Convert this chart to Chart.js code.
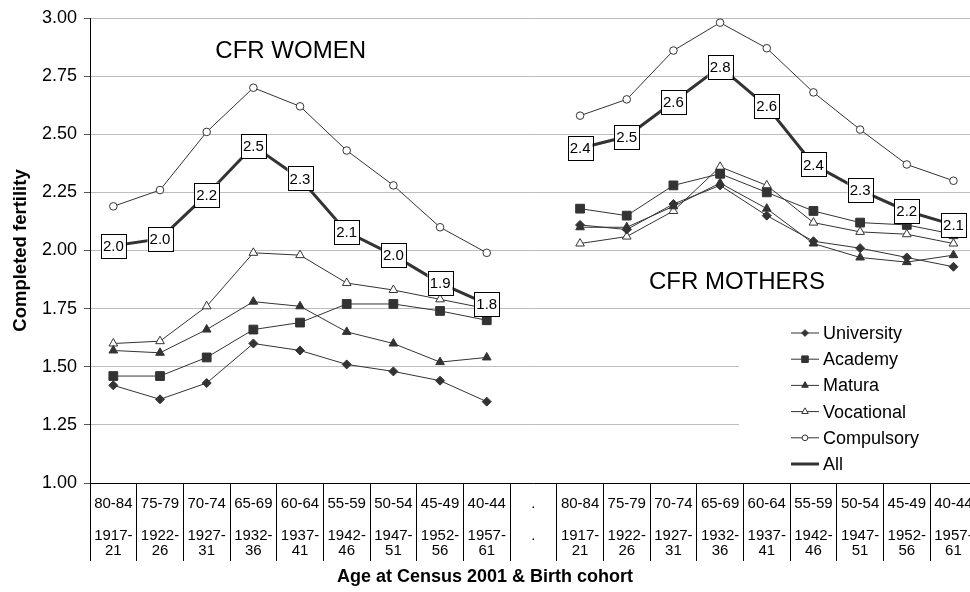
<!DOCTYPE html>
<html>
<head>
<meta charset="utf-8">
<title>Completed fertility</title>
<script src="https://cdn.jsdelivr.net/npm/chart.js@4.4.1/dist/chart.umd.min.js"></script>
<style>
    html, body { margin: 0; padding: 0; background: #fff; overflow: hidden; }
    #wrap { width: 984px; height: 592px; }
</style>
</head>
<body>
<div id="wrap"><canvas id="cfrChart" width="984" height="592"></canvas></div>
<script>
// ---------- datos ----------
const ages = ['80-84', '75-79', '70-74', '65-69', '60-64', '55-59', '50-54', '45-49', '40-44'];
const cohorts = [['1917-', '21'], ['1922-', '26'], ['1927-', '31'], ['1932-', '36'], ['1937-', '41'],
                 ['1942-', '46'], ['1947-', '51'], ['1952-', '56'], ['1957-', '61']];

// 9 cohortes "women", un hueco ".", luego 9 cohortes "mothers"
const university = [1.42, 1.36, 1.43, 1.60, 1.57, 1.51, 1.48, 1.44, 1.35, null,
                    2.11, 2.09, 2.20, 2.28, 2.15, 2.04, 2.01, 1.97, 1.93];
const academy    = [1.46, 1.46, 1.54, 1.66, 1.69, 1.77, 1.77, 1.74, 1.70, null,
                    2.18, 2.15, 2.28, 2.33, 2.25, 2.17, 2.12, 2.11, 2.07];
const matura     = [1.57, 1.56, 1.66, 1.78, 1.76, 1.65, 1.60, 1.52, 1.54, null,
                    2.10, 2.10, 2.19, 2.29, 2.18, 2.03, 1.97, 1.95, 1.98];
const vocational = [1.60, 1.61, 1.76, 1.99, 1.98, 1.86, 1.83, 1.79, 1.75, null,
                    2.03, 2.06, 2.17, 2.36, 2.28, 2.12, 2.08, 2.07, 2.03];
const compulsory = [2.19, 2.26, 2.51, 2.70, 2.62, 2.43, 2.28, 2.10, 1.99, null,
                    2.58, 2.65, 2.86, 2.98, 2.87, 2.68, 2.52, 2.37, 2.30];
const all        = [2.02, 2.05, 2.24, 2.45, 2.31, 2.08, 1.98, 1.86, 1.77, null,
                    2.44, 2.49, 2.64, 2.79, 2.62, 2.37, 2.26, 2.17, 2.11];

const yMin = 1, yMax = 3, yStep = 0.25;

const labels = [
    ...ages.map((a, i) => [a, '', ...cohorts[i]]),
    ['.', '', '.', ''],
    ...ages.map((a, i) => [a, '', ...cohorts[i]]),
];

const FONT = "'Liberation Sans', Arial, sans-serif";
const INK = '#333';

function serie(label, data, pointStyle, filled, radius) {
    return {
        label, data, pointStyle,
        borderColor: INK,
        borderWidth: 1,
        backgroundColor: filled ? INK : '#fff',
        pointBackgroundColor: filled ? INK : '#fff',
        pointBorderColor: INK,
        pointBorderWidth: 1,
        pointRadius: radius,
        pointHoverRadius: radius,
        spanGaps: false,
        tension: 0,
    };
}

const datasets = [
    serie('University', university, 'rectRot', true, 4.5),
    serie('Academy', academy, 'rect', true, 6.2),
    serie('Matura', matura, 'triangle', true, 5),
    serie('Vocational', vocational, 'triangle', false, 5),
    serie('Compulsory', compulsory, 'circle', false, 3.8),
    {
        label: 'All', data: all,
        borderColor: INK, borderWidth: 3, pointRadius: 0, pointHoverRadius: 0,
        spanGaps: false, tension: 0, isTotal: true,
    },
];

// Etiquetas en caja para la serie "All", títulos y leyenda dentro del gráfico
const annotations = {
    id: 'annotations',
    afterDatasetsDraw(chart) {
        const ctx = chart.ctx;
        const x = chart.scales.x, y = chart.scales.y;
        ctx.save();
        ctx.fillStyle = '#000';
        ctx.font = `24px ${FONT}`;
        ctx.textAlign = 'center';
        ctx.textBaseline = 'middle';
        ctx.fillText('CFR WOMEN', x.getPixelForValue(3.8), y.getPixelForValue(2.856));
        ctx.fillText('CFR MOTHERS', x.getPixelForValue(13.36), y.getPixelForValue(1.862));

        chart.data.datasets.forEach((ds, di) => {
            if (!ds.isTotal) return;
            const meta = chart.getDatasetMeta(di);
            meta.data.forEach((pt, i) => {
                const v = ds.data[i];
                if (v == null) return;
                const w = 25, h = 24;
                ctx.fillStyle = '#fff';
                ctx.fillRect(pt.x - w / 2, pt.y - h / 2, w, h);
                ctx.strokeStyle = '#000';
                ctx.lineWidth = 1;
                ctx.strokeRect(Math.round(pt.x - w / 2) + 0.5, Math.round(pt.y - h / 2) + 0.5, w, h);
                ctx.fillStyle = '#000';
                ctx.font = `15px ${FONT}`;
                ctx.fillText(v.toFixed(1), pt.x, pt.y + 1);
            });
        });
        ctx.restore();
    },
    afterDraw(chart) {
        const ctx = chart.ctx;
        const area = chart.chartArea;
        ctx.save();
        // título del eje x, centrado en la ventana visible
        ctx.fillStyle = '#000';
        ctx.font = `bold 18px ${FONT}`;
        ctx.textAlign = 'center';
        ctx.textBaseline = 'middle';
        ctx.fillText('Age at Census 2001 & Birth cohort', 485, 577);

        // leyenda
        ctx.fillStyle = '#fff';
        ctx.fillRect(739, 313, area.right - 739, area.bottom - 1 - 313);
        const x0 = 791, x1 = 819, top = 333, step = 26.2;
        chart.data.datasets.forEach((ds, i) => {
            const yy = top + i * step;
            ctx.strokeStyle = INK;
            ctx.lineWidth = ds.borderWidth;
            ctx.beginPath();
            ctx.moveTo(x0, yy);
            ctx.lineTo(x1, yy);
            ctx.stroke();
            if (ds.pointRadius) {
                ctx.fillStyle = ds.pointBackgroundColor;
                ctx.strokeStyle = INK;
                ctx.lineWidth = 1;
                Chart.helpers.drawPoint(ctx, {
                    pointStyle: ds.pointStyle,
                    radius: ds.pointRadius * 0.75,
                    rotation: 0,
                    borderWidth: 1,
                }, (x0 + x1) / 2, yy);
            }
            ctx.fillStyle = '#000';
            ctx.font = `18px ${FONT}`;
            ctx.textAlign = 'left';
            ctx.textBaseline = 'middle';
            ctx.fillText(ds.label, x1 + 4, yy + 1);
        });
        ctx.restore();
    },
};

new Chart(document.getElementById('cfrChart'), {
    type: 'line',
    data: { labels, datasets },
    plugins: [annotations],
    options: {
        responsive: false,
        animation: false,
        events: [],
        layout: { padding: { top: 18, right: 0, bottom: 0, left: 0 } },
        plugins: { legend: { display: false }, tooltip: { enabled: false } },
        scales: {
            x: {
                offset: true,
                grid: { offset: true, drawOnChartArea: false, drawTicks: true, tickLength: 78, color: '#000' },
                border: { color: '#000', width: 1 },
                ticks: {
                    autoSkip: false, maxRotation: 0, minRotation: 0,
                    padding: -65, color: '#000',
                    font: { family: FONT, size: 15, lineHeight: 1.05 },
                },
                afterFit(scale) { scale.height = 109; },
            },
            y: {
                min: yMin, max: yMax,
                ticks: {
                    stepSize: yStep, padding: 7, color: '#000',
                    font: { family: FONT, size: 18 },
                    callback: (v) => Number(v).toFixed(2),
                },
                grid: { color: '#bdbdbd', tickColor: '#555', tickLength: 6 },
                border: { color: '#000', width: 1 },
                title: {
                    display: true, text: 'Completed fertility', color: '#000',
                    font: { family: FONT, size: 18.5, weight: 'bold' },
                    padding: { top: 10, bottom: 0 },
                },
                afterFit(scale) { scale.width = 90; },
            },
        },
    },
});
</script>
</body>
</html>
